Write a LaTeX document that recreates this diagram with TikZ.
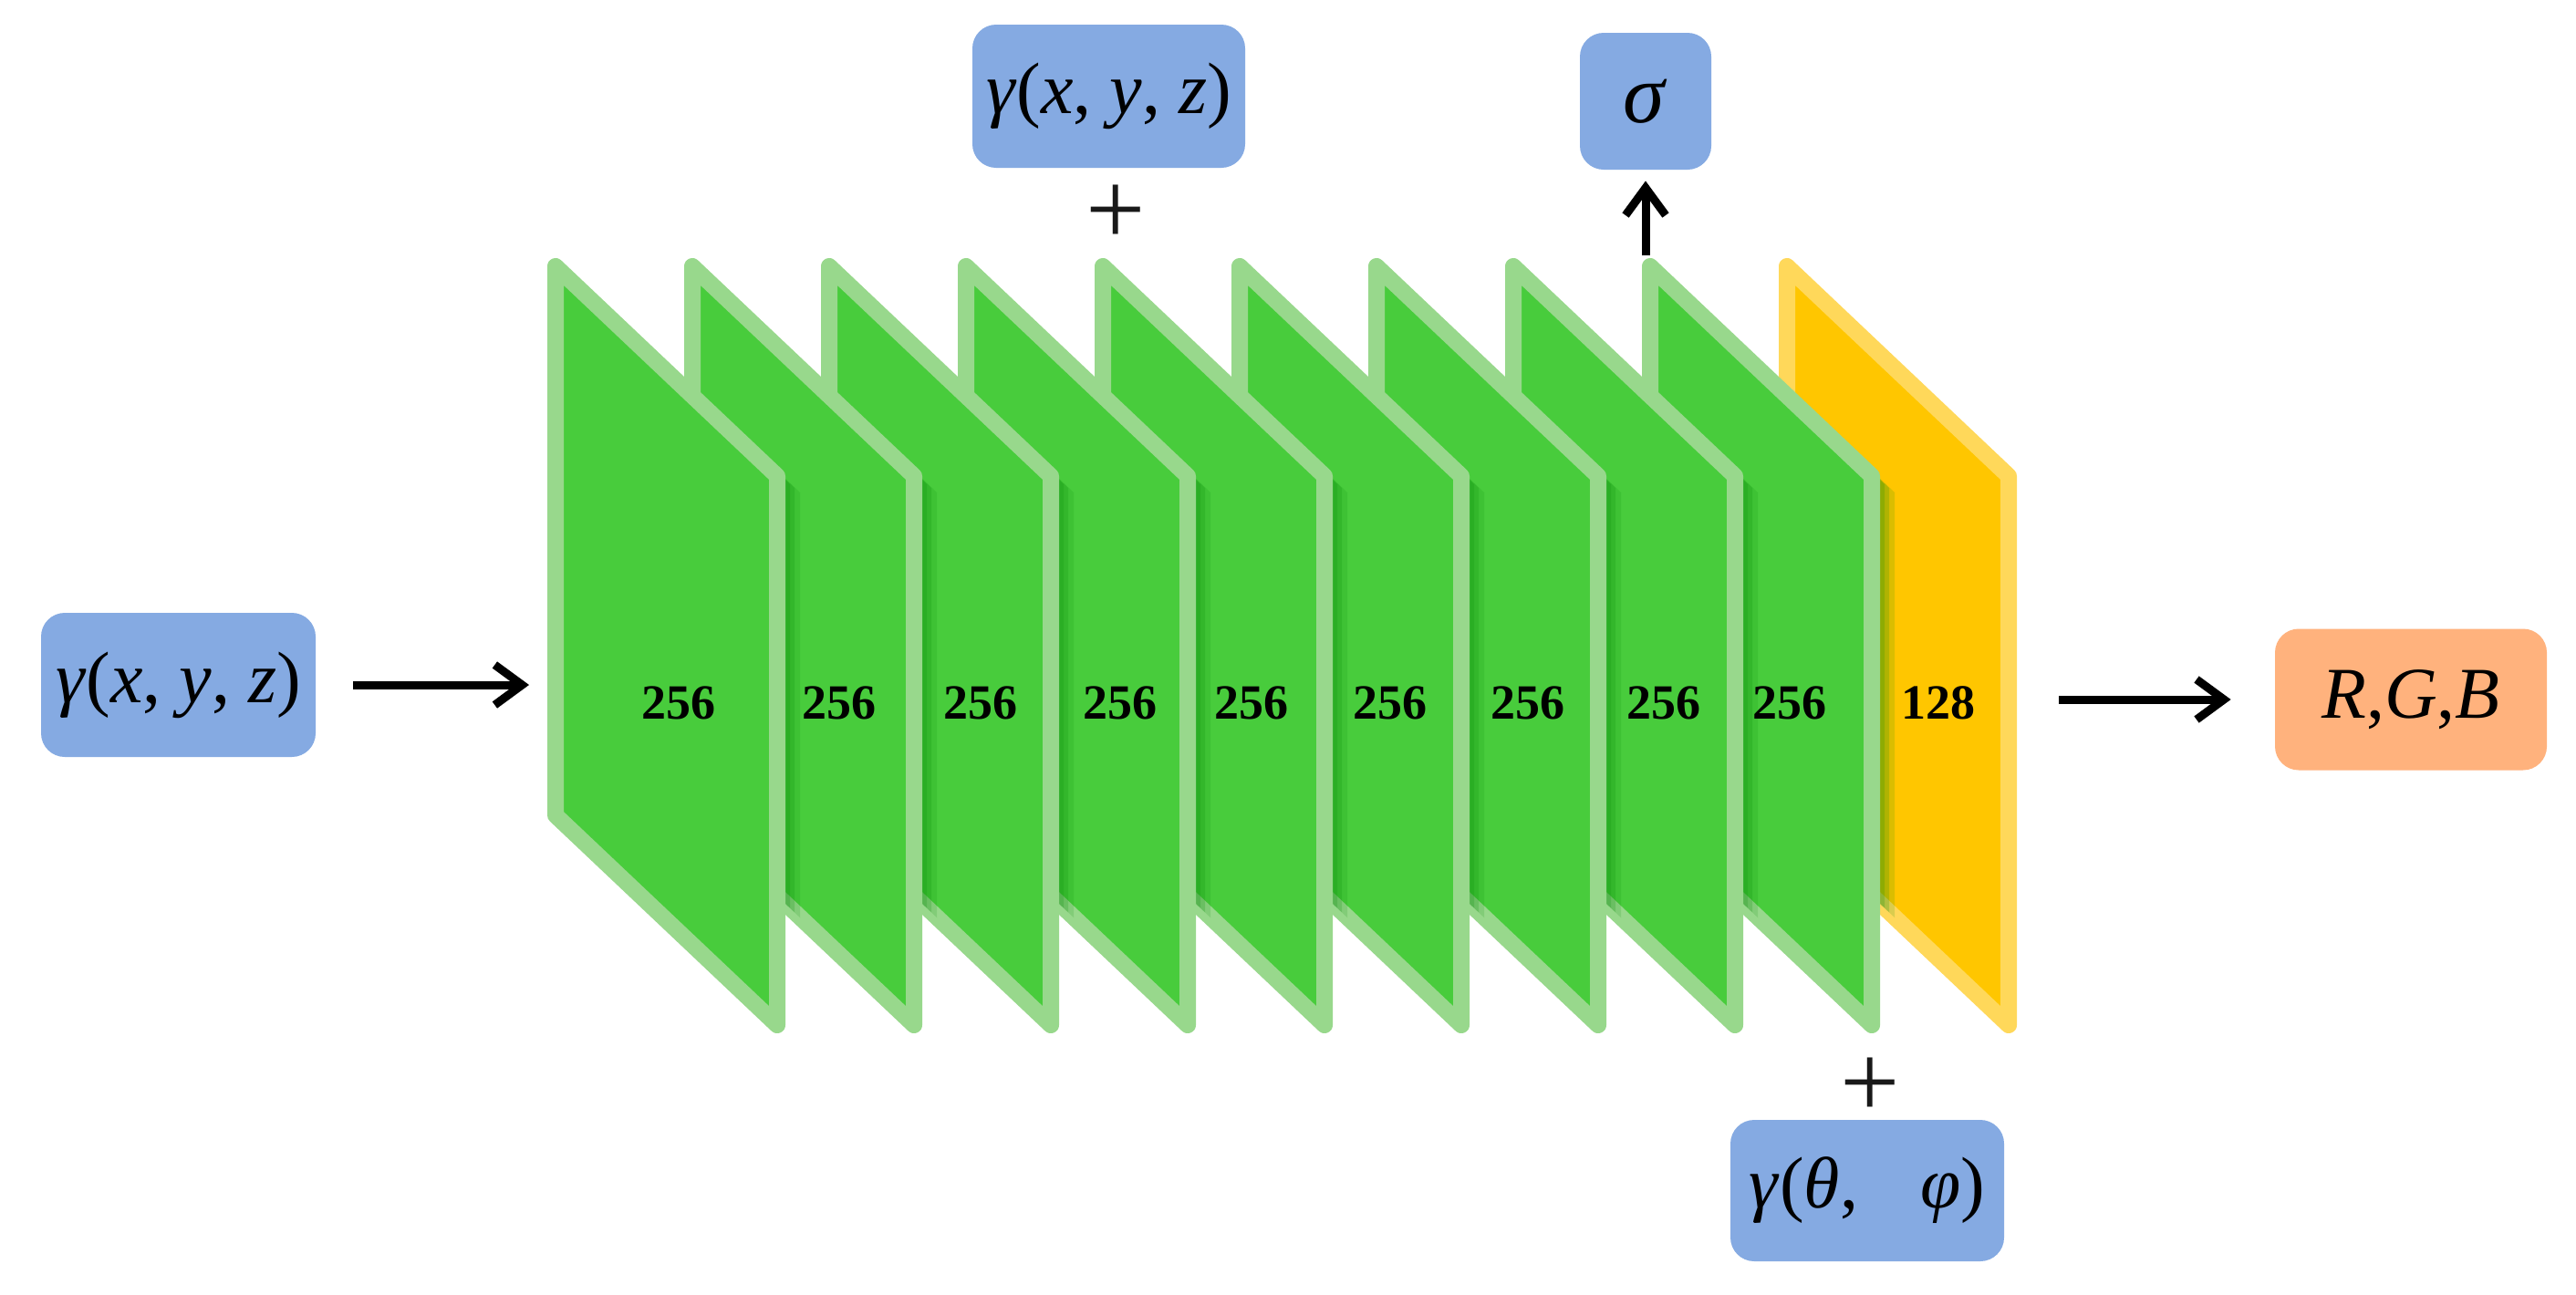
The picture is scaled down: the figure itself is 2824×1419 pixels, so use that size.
\documentclass[tikz,border=0pt]{standalone}
\usepackage{fontspec}
\setmainfont{Liberation Serif}
\usetikzlibrary{arrows.meta}
\definecolor{boxblue}{RGB}{133,170,226}
\definecolor{boxorange}{RGB}{255,178,125}
\definecolor{pgreen}{RGB}{72,204,60}
\definecolor{pgreenb}{RGB}{152,216,140}
\definecolor{pyellow}{RGB}{255,198,0}
\definecolor{pyellowb}{RGB}{255,216,90}
\definecolor{pshadow}{RGB}{10,140,10}
\newcommand{\centerpath}[1]{(#1+9,292) -- (#1+252,522) -- (#1+252,1124) -- (#1+9,894) -- cycle}
\newcommand{\outerpath}[3]{(#1+#2,280+#3) -- (#1+261+#2,528+#3) -- (#1+261+#2,1134+#3) -- (#1+#2,885+#3) -- cycle}
\tikzset{
  mbox/.style={rounded corners=13pt, fill=boxblue, inner sep=0pt, font=\fontsize{40}{48}\selectfont},
  obox/.style={mbox, fill=boxorange},
  num/.style={font=\bfseries\fontsize{27}{30}\selectfont, inner sep=0pt},
  plussign/.style={font=\fontsize{58}{62}\selectfont, inner sep=0pt, text=black!90},
  arr/.style={line width=4.5pt, -{Straight Barb[length=15pt,width=22pt]}},
  panelG/.style={fill=pgreen, draw=pgreenb, line width=9pt, line join=round},
  panelY/.style={fill=pyellow, draw=pyellowb, line width=9pt, line join=round}
}
\begin{document}
\begin{tikzpicture}[x=0.5pt,y=-0.5pt]
\useasboundingbox (0,0) rectangle (2824,1419);
\fill[white] (0,0) rectangle (2824,1419);
% panels, back to front
\foreach \i in {9,8,7,6,5,4,3,2,1,0}{
  \pgfmathsetmacro\xl{600+150*\i}
  \pgfmathsetmacro\xn{750+150*\i}
  \ifnum\i=9
    \filldraw[panelY] \centerpath{\xl};
  \else
    \begin{scope}
      \clip \outerpath{\xn}{0}{0};
      \fill[pshadow,opacity=0.15] \outerpath{\xl}{16}{12};
      \fill[pshadow,opacity=0.2] \outerpath{\xl}{10}{7};
      \fill[pshadow,opacity=0.2] \outerpath{\xl}{5}{3};
    \end{scope}
    \filldraw[panelG] \centerpath{\xl};
  \fi
}
% layer sizes
\node[num] (n0) at (744,771) {256};
\node[num] (n1) at (920,771) {256};
\node[num] (n2) at (1075,771) {256};
\node[num] (n3) at (1228,771) {256};
\node[num] (n4) at (1372,771) {256};
\node[num] (n5) at (1524,771) {256};
\node[num] (n6) at (1675,771) {256};
\node[num] (n7) at (1824,771) {256};
\node[num] (n8) at (1962,771) {256};
\node[num] (n9) at (2125,771) {128};
% boxes
\node[mbox, minimum width=150.5pt, minimum height=79pt] (in) at (195.5,751)
  {\textit{γ}(\textit{x}, \textit{y}, \textit{z})};
\node[mbox, minimum width=149.5pt, minimum height=78.5pt] (top) at (1215.5,105.5)
  {\textit{γ}(\textit{x}, \textit{y}, \textit{z})};
\node[mbox, minimum width=72pt, minimum height=75pt] (sig) at (1804,111) {\fontsize{46}{50}\selectfont\textit{σ}};
\node[mbox, minimum width=150pt, minimum height=77.5pt] (bot) at (2047,1305.5)
  {\textit{γ}(\textit{θ},\hspace{0.85em}\textit{φ})};
\node[obox, minimum width=149pt, minimum height=77.5pt] (rgb) at (2643,767)
  {\textit{R},\textit{G},\textit{B}};
% plus signs
\node[plussign] (plus1) at (1223,236) {+};
\node[plussign] (plus2) at (2050,1193) {+};
% connectors
\coordinate (p0L) at (600,751);
\coordinate (p9R) at (2211,767);
\coordinate (p8T) at (1804,280);
\draw[arr, shorten <=20.5pt, shorten >=10pt] (in.east) -- (p0L);
\draw[arr, shorten <=23pt, shorten >=24pt] (p9R) -- (rgb.west);
\draw[arr, shorten >=6pt] (p8T) -- (sig.south);
\end{tikzpicture}
\end{document}
